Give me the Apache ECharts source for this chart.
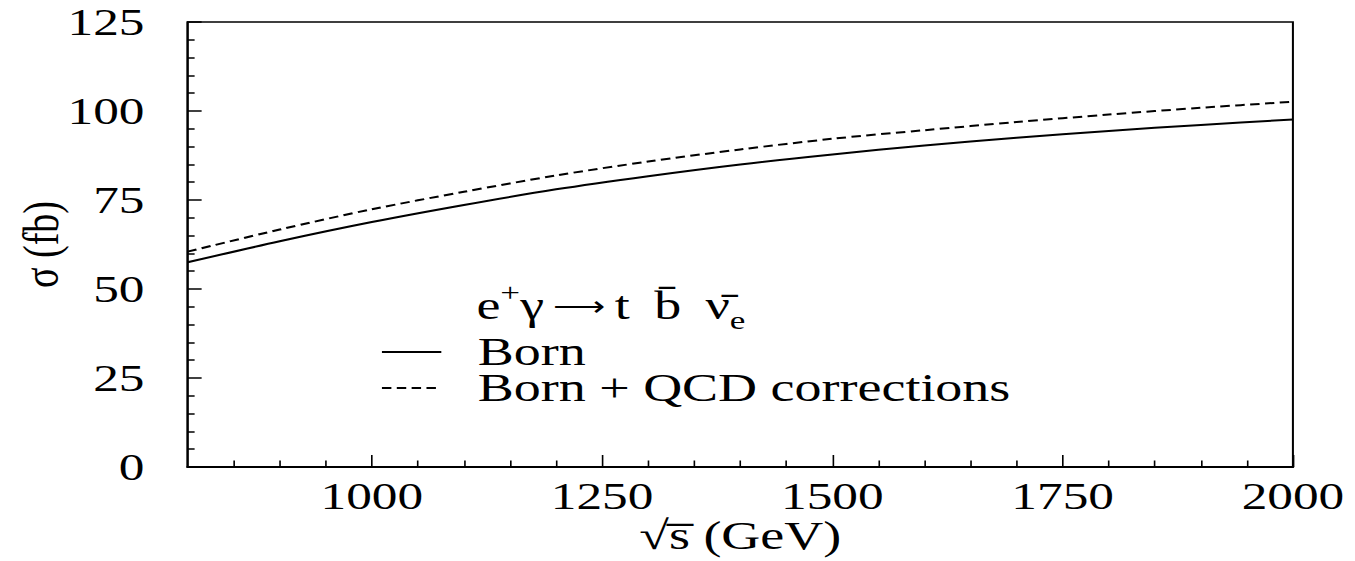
<!DOCTYPE html>
<html>
<head>
<meta charset="utf-8">
<title>sigma vs sqrt(s)</title>
<script src="https://cdn.jsdelivr.net/npm/echarts@6/dist/echarts.min.js"></script>
<style>
  html, body { margin: 0; padding: 0; background: #fff; overflow: hidden; }
  #wrap { width: 1355px; height: 561px; overflow: hidden; }
  /* the reference is a horizontally stretched plot, so draw narrow and stretch */
  #chart { width: 1004px; height: 561px; transform: scaleX(1.3496); transform-origin: 0 0; }
</style>
</head>
<body>
<div id="wrap"><div id="chart"></div></div>
<script>
/* ── Data (sqrt(s) in GeV, sigma in fb) ── */
const SQRT_S   = [800, 900, 1000, 1100, 1200, 1300, 1400, 1500, 1600, 1700, 1800, 1900, 2000];
const BORN     = [57.5, 63.4, 68.8, 73.6, 78.0, 81.7, 85.0, 87.8, 90.3, 92.5, 94.4, 96.1, 97.6];
const BORN_QCD = [60.5, 66.7, 72.4, 77.3, 81.9, 85.8, 89.2, 92.2, 94.6, 96.9, 99.0, 100.9, 102.6];

/* ── Ticks ── */
const X_LABELS = [1000, 1250, 1500, 1750, 2000];
const X_MINOR  = [850, 900, 950, 1050, 1100, 1150, 1200, 1300, 1350, 1400, 1450,
                  1550, 1600, 1650, 1700, 1800, 1850, 1900, 1950];

const FONT = 'Liberation Serif, Times New Roman, serif';
const INK = '#000';

const pairs = (ys) => SQRT_S.map((x, i) => [x, ys[i]]);
const plain = (v) => String(v);

const chart = echarts.init(document.getElementById('chart'), null, { renderer: 'svg' });

chart.setOption({
    animation: false,
    backgroundColor: '#fff',
    textStyle: { fontFamily: FONT },
    grid: {
        left: 139, right: 46, top: 22, bottom: 92,
        show: true, borderColor: INK, borderWidth: 1.5, backgroundColor: 'transparent',
    },
    /* reaction label above the legend */
    title: {
        text: '{m|e}{sup|+}{m|γ}{arr| ⟶ }{m|t\u2009 b̄\u2009 ν̄}{sub|e}',
        left: 353, top: 279, padding: 0,
        textStyle: {
            fontWeight: 'normal',
            rich: {
                m:   { fontFamily: FONT, fontWeight: 'normal', fontSize: 40, color: INK, lineHeight: 54 },
                arr: { fontFamily: FONT, fontWeight: 'normal', fontSize: 27, color: INK, lineHeight: 27 },
                sup: { fontFamily: FONT, fontWeight: 'normal', fontSize: 26, color: INK, lineHeight: 22, verticalAlign: 'top' },
                sub: { fontFamily: FONT, fontWeight: 'normal', fontSize: 26, color: INK, lineHeight: 20, verticalAlign: 'bottom' },
            },
        },
    },
    legend: {
        orient: 'vertical', left: 282, top: 332, padding: 0,
        itemWidth: 44, itemHeight: 14, itemGap: -4,
        selectedMode: false,
        itemStyle: { opacity: 0 },
        textStyle: { fontFamily: FONT, fontSize: 40, color: INK, lineHeight: 33, padding: [0, 0, 0, 22] },
        data: ['Born', 'Born + QCD corrections'],
    },
    xAxis: [
        {
            type: 'value', min: 800, max: 2000,
            name: '√s̅ (GeV)', nameLocation: 'middle', nameGap: 49, nameMoveOverlap: false,
            nameTextStyle: { fontFamily: FONT, fontSize: 40, color: INK },
            axisLine: { show: true, lineStyle: { color: INK, width: 2 } },
            axisTick: { show: true, inside: true, length: 12, customValues: X_LABELS, lineStyle: { color: INK, width: 1.2 } },
            axisLabel: { customValues: X_LABELS, formatter: plain, margin: 10, fontFamily: FONT, fontSize: 38, color: INK },
            splitLine: { show: false },
        },
        {
            // minor ticks only
            type: 'value', min: 800, max: 2000, position: 'bottom',
            axisLine: { show: false },
            axisTick: { show: true, inside: true, length: 6.5, customValues: X_MINOR, lineStyle: { color: INK, width: 1.2 } },
            axisLabel: { show: false },
            splitLine: { show: false },
        },
    ],
    yAxis: {
        type: 'value', min: 0, max: 125, interval: 25,
        name: 'σ (fb)', nameLocation: 'middle', nameGap: 90, nameMoveOverlap: false,
        nameTextStyle: { fontFamily: FONT, fontSize: 38, color: INK },
        axisLine: { show: true, lineStyle: { color: INK, width: 1.5 } },
        axisTick: { show: true, inside: true, length: 10.4, lineStyle: { color: INK, width: 1.5 } },
        minorTick: { show: true, splitNumber: 5, length: 5.2, lineStyle: { color: INK, width: 1.5 } },
        axisLabel: { formatter: plain, margin: 32, fontFamily: FONT, fontSize: 38, color: INK },
        splitLine: { show: false },
    },
    series: [
        {
            name: 'Born', type: 'line', xAxisIndex: 0,
            data: pairs(BORN), symbol: 'none', smooth: 0.3,
            lineStyle: { color: INK, width: 2 },
            itemStyle: { color: INK },
        },
        {
            name: 'Born + QCD corrections', type: 'line', xAxisIndex: 0,
            data: pairs(BORN_QCD), symbol: 'none', smooth: 0.3,
            lineStyle: { color: INK, width: 2, type: [7, 4] },
            itemStyle: { color: INK },
        },
    ],
});
</script>
</body>
</html>
